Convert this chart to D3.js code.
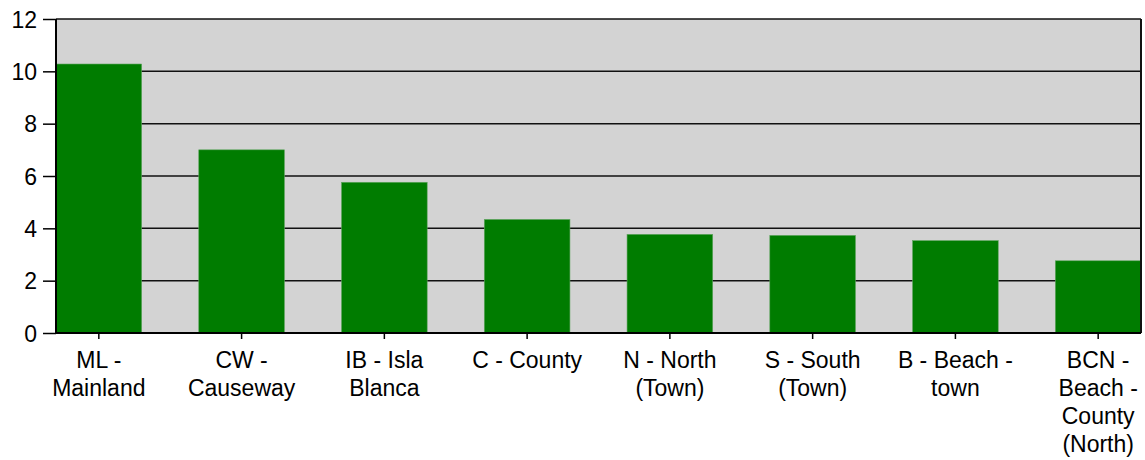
<!DOCTYPE html>
<html>
<head>
<meta charset="utf-8">
<script src="https://cdn.jsdelivr.net/npm/d3@7"></script>
<style>
  body { margin: 0; background: #fff; }
  text { font-family: "Liberation Sans", Arial, sans-serif; }
</style>
</head>
<body>
<div id="chart"></div>
<script>
// category labels (one entry per line of the wrapped label)
var categories = ["ML", "CW", "IB", "C", "N", "S", "B", "BCN"];
var labelLines = [
    ["ML -", "Mainland"],
    ["CW -", "Causeway"],
    ["IB - Isla", "Blanca"],
    ["C - County"],
    ["N - North", "(Town)"],
    ["S - South", "(Town)"],
    ["B - Beach -", "town"],
    ["BCN -", "Beach -", "County", "(North)"]
];
var values = [10.28, 7.0, 5.76, 4.34, 3.77, 3.73, 3.53, 2.76];
var yTicks = [0, 2, 4, 6, 8, 10, 12];

var W = 1145, H = 460;
var margin = { top: 19, right: 4, bottom: 127, left: 56 };
var width = W - margin.left - margin.right,
    height = H - margin.top - margin.bottom;

var svg = d3.select("#chart")
    .append("svg")
    .attr("width", W)
    .attr("height", H)
    .append("g")
    .attr("transform", "translate(" + margin.left + "," + margin.top + ")");

var x = d3.scaleBand()
    .domain(categories)
    .range([0, width])
    .paddingInner(0.4)
    .paddingOuter(0);

var y = d3.scaleLinear()
    .domain([0, 12])
    .range([height, 0]);

// plot background
svg.append("rect")
    .attr("width", width)
    .attr("height", height)
    .attr("fill", "#d3d3d3");

// gridlines
svg.selectAll(".grid")
    .data(yTicks.slice(1))
    .enter().append("line")
    .attr("x1", 0)
    .attr("x2", width)
    .attr("y1", d => y(d))
    .attr("y2", d => y(d))
    .attr("stroke", "#111")
    .attr("stroke-width", 1.5);

// bars
svg.selectAll(".bar")
    .data(values)
    .enter().append("rect")
    .attr("x", (d, i) => x(categories[i]))
    .attr("y", d => y(d))
    .attr("width", x.bandwidth())
    .attr("height", d => height - y(d))
    .attr("fill", "#007c00")
    .attr("stroke", "#5fa55f")
    .attr("stroke-width", 0.6);

// right border
svg.append("line")
    .attr("x1", width).attr("x2", width)
    .attr("y1", 0).attr("y2", height)
    .attr("stroke", "#111")
    .attr("stroke-width", 2);

// y axis
var yAxis = svg.append("g")
    .call(d3.axisLeft(y).tickValues(yTicks).tickSize(13).tickPadding(6));
yAxis.selectAll("text")
    .attr("font-size", 23)
    .attr("fill", "#000")
    .attr("dy", "0.36em");
yAxis.select(".domain").attr("stroke-width", 2).attr("d", "M0," + height + "V0");
yAxis.selectAll(".tick line").attr("stroke-width", 1.5);

// x axis
var xAxis = svg.append("g")
    .attr("transform", "translate(0," + height + ")")
    .call(d3.axisBottom(x).tickSize(6).tickFormat(""));
xAxis.select(".domain").attr("stroke-width", 2).attr("d", "M0,0H" + width);
xAxis.selectAll(".tick line").attr("stroke-width", 1.5);

xAxis.selectAll(".tick text").remove();
xAxis.selectAll(".tick").each(function (d, i) {
    var t = d3.select(this).append("text")
        .attr("text-anchor", "middle")
        .attr("font-size", 23)
        .attr("fill", "#000");
    labelLines[i].forEach(function (line, j) {
        t.append("tspan")
            .attr("x", 0)
            .attr("y", 35 + j * 28)
            .text(line);
    });
});
</script>
</body>
</html>
